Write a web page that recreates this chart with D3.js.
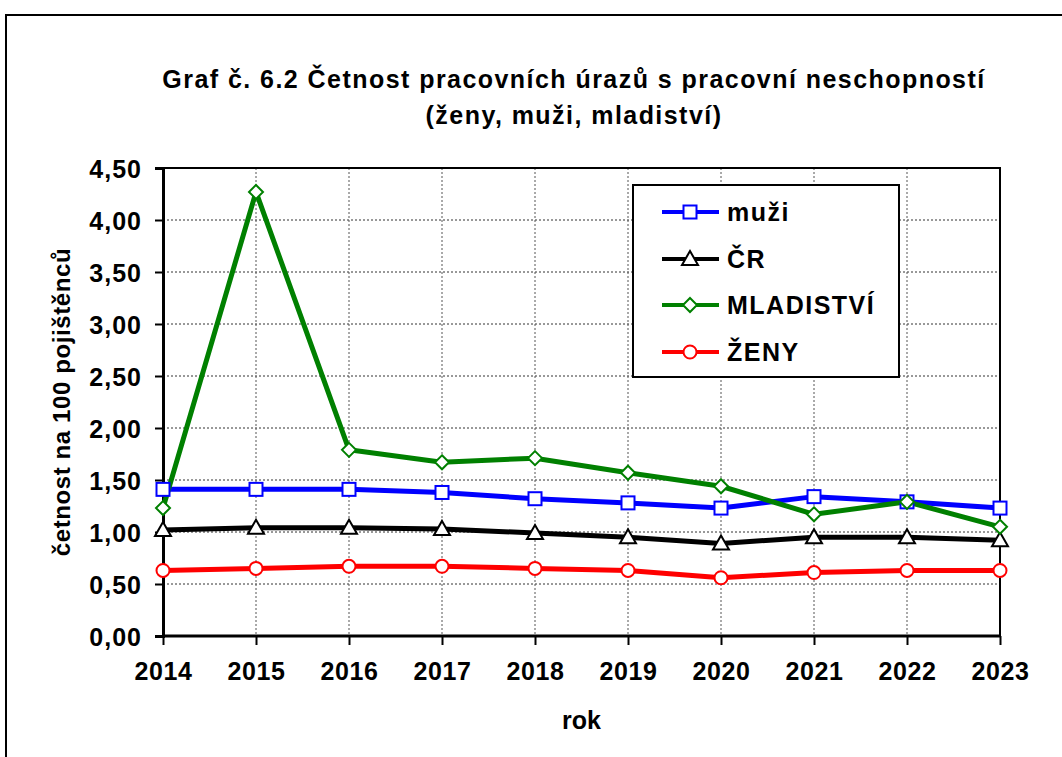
<!DOCTYPE html>
<html>
<head>
<meta charset="utf-8">
<script src="https://cdn.jsdelivr.net/npm/d3@7"></script>
<style>
  html, body { margin: 0; padding: 0; background: #fff; }
  svg text { font-family: "Liberation Sans", Arial, sans-serif; font-weight: bold; fill: #000; }
</style>
</head>
<body>
<svg id="chart" width="1062" height="757"></svg>
<script>
// Roky a hodnoty četnosti pracovních úrazů na 100 pojištěnců
const years = ["2014", "2015", "2016", "2017", "2018", "2019", "2020", "2021", "2022", "2023"];
const muzi = [1.41, 1.41, 1.41, 1.38, 1.32, 1.28, 1.23, 1.34, 1.29, 1.23];
const cr = [1.02, 1.04, 1.04, 1.03, 0.99, 0.95, 0.89, 0.95, 0.95, 0.92];
const mladistvi = [1.23, 4.27, 1.79, 1.67, 1.71, 1.57, 1.44, 1.17, 1.29, 1.05];
const zeny = [0.63, 0.65, 0.67, 0.67, 0.65, 0.63, 0.56, 0.61, 0.63, 0.63];
const yTicks = [0, 0.5, 1, 1.5, 2, 2.5, 3, 3.5, 4, 4.5];

const seriesList = [
  { name: "muži", values: muzi, color: "#0000ff", marker: "square" },
  { name: "ČR", values: cr, color: "#000000", marker: "triangle" },
  { name: "MLADISTVÍ", values: mladistvi, color: "#008000", marker: "diamond" },
  { name: "ŽENY", values: zeny, color: "#ff0000", marker: "circle" }
];

const svg = d3.select("#chart");
const plot = { left: 163, right: 1000, top: 168, bottom: 636 };

const x = d3.scalePoint().domain(years).range([plot.left, plot.right]);
const y = d3.scaleLinear().domain([0, 4.5]).range([plot.bottom, plot.top]);

// Outer chart frame
svg.append("rect")
  .attr("x", 6).attr("y", 15).attr("width", 1200).attr("height", 900)
  .attr("fill", "#fff").attr("stroke", "#000").attr("stroke-width", 2);

// Title
const title = svg.append("text").attr("text-anchor", "middle")
  .style("font-size", "25px").style("letter-spacing", "1.45px");
title.append("tspan").attr("x", 574).attr("y", 88)
  .text("Graf č. 6.2 Četnost pracovních úrazů s pracovní neschopností");
title.append("tspan").attr("x", 574).attr("y", 124)
  .text("(ženy, muži, mladiství)");

// Gridlines (dotted)
svg.append("g").selectAll("line.hg").data(yTicks.filter(d => d > 0 && d < 4.5)).join("line")
  .attr("x1", plot.left).attr("x2", plot.right)
  .attr("y1", d => y(d)).attr("y2", d => y(d))
  .attr("stroke", "#333").attr("stroke-width", 1).attr("stroke-dasharray", "2,2");
svg.append("g").selectAll("line.vg").data(years.slice(1, -1)).join("line")
  .attr("x1", d => x(d)).attr("x2", d => x(d))
  .attr("y1", plot.top).attr("y2", plot.bottom)
  .attr("stroke", "#555").attr("stroke-width", 1).attr("stroke-dasharray", "2,2");

// Plot border (top and right)
svg.append("path")
  .attr("d", `M${plot.left},${plot.top}H${plot.right}V${plot.bottom}`)
  .attr("fill", "none").attr("stroke", "#000").attr("stroke-width", 2);

// Y axis
const yAxis = svg.append("g").attr("transform", `translate(${plot.left},0)`)
  .call(d3.axisLeft(y).tickValues(yTicks).tickSize(8).tickPadding(13)
    .tickFormat(d => d3.format(".2f")(d).replace(".", ",")));
yAxis.select(".domain").attr("stroke-width", 3);
yAxis.selectAll(".tick line").attr("stroke-width", 2);
yAxis.selectAll("text").style("font-size", "25px").style("letter-spacing", "1px")
  .attr("dy", "0.36em").attr("font-family", null);

// X axis
const xAxis = svg.append("g").attr("transform", `translate(0,${plot.bottom})`)
  .call(d3.axisBottom(x).tickSize(9).tickPadding(17));
xAxis.select(".domain").attr("stroke-width", 3).attr("d", `M${plot.left},0H${plot.right}`);
xAxis.selectAll(".tick line").attr("stroke-width", 2);
xAxis.selectAll("text").style("font-size", "25px").style("letter-spacing", "0.6px")
  .attr("dy", "0.71em").attr("font-family", null);

// Axis titles
svg.append("text").attr("transform", `translate(70,${(plot.top + plot.bottom) / 2}) rotate(-90)`)
  .attr("text-anchor", "middle").style("font-size", "24px").style("letter-spacing", "0.6px")
  .text("četnost na 100 pojištěnců");
svg.append("text").attr("x", (plot.left + plot.right) / 2).attr("y", 729)
  .attr("text-anchor", "middle").style("font-size", "25px").text("rok");

// Marker shapes
function drawMarker(g, type, color) {
  if (type === "square") {
    g.append("rect").attr("x", -6.5).attr("y", -6.5).attr("width", 13).attr("height", 13)
      .attr("fill", "#fff").attr("stroke", color).attr("stroke-width", 2);
  } else if (type === "triangle") {
    g.append("path").attr("d", "M0,-8L8,6L-8,6Z")
      .attr("fill", "#fff").attr("stroke", color).attr("stroke-width", 2);
  } else if (type === "diamond") {
    g.append("path").attr("d", "M0,-7L7,0L0,7L-7,0Z")
      .attr("fill", "#fff").attr("stroke", color).attr("stroke-width", 2);
  } else {
    g.append("circle").attr("r", 6.5)
      .attr("fill", "#fff").attr("stroke", color).attr("stroke-width", 2);
  }
}

const line = d3.line().x((d, i) => x(years[i])).y(d => y(d));

// Series lines and markers
seriesList.forEach(s => {
  svg.append("path").datum(s.values).attr("d", line)
    .attr("fill", "none").attr("stroke", s.color).attr("stroke-width", 5)
    .attr("stroke-linejoin", "round");
});
seriesList.forEach(s => {
  s.values.forEach((v, i) => {
    const g = svg.append("g").attr("transform", `translate(${x(years[i])},${y(v)})`);
    drawMarker(g, s.marker, s.color);
  });
});

// Legend
const legend = svg.append("g");
legend.append("rect").attr("x", 633).attr("y", 185).attr("width", 266).attr("height", 192)
  .attr("fill", "#fff").attr("stroke", "#000").attr("stroke-width", 2);
const legendY = [212, 259, 305, 352];
seriesList.forEach((s, i) => {
  const ly = legendY[i];
  legend.append("line").attr("x1", 662).attr("x2", 719).attr("y1", ly).attr("y2", ly)
    .attr("stroke", s.color).attr("stroke-width", 4);
  const g = legend.append("g").attr("transform", `translate(690,${ly})`);
  drawMarker(g, s.marker, s.color);
  legend.append("text").attr("x", 727).attr("y", ly).attr("dy", "0.36em")
    .style("font-size", "25px").style("letter-spacing", "1.5px").text(s.name);
});
</script>
</body>
</html>
